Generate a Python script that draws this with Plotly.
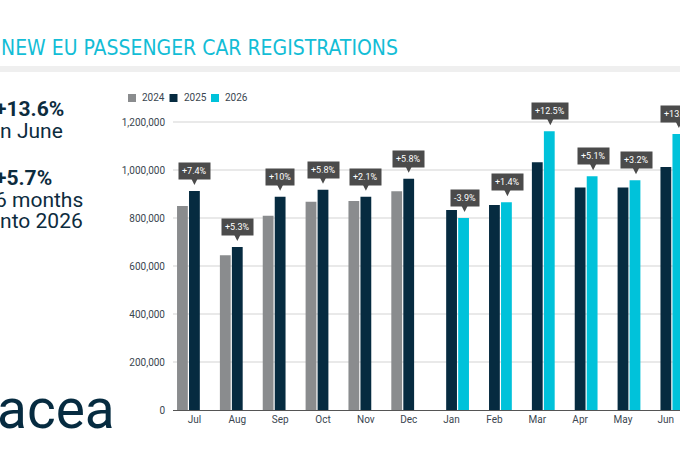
import plotly.graph_objects as go

months = ["Jul", "Aug", "Sep", "Oct", "Nov", "Dec", "Jan", "Feb", "Mar", "Apr", "May", "Jun"]
y2024 = [850000, 645000, 809000, 868000, 871000, 911000, None, None, None, None, None, None]
y2025 = [913000, 679000, 889000, 918000, 889000, 964000, 833000, 854000, 1032000, 927000, 927000, 1012000]
y2026 = [None, None, None, None, None, None, 800000, 866000, 1161000, 974000, 957000, 1150000]
changes = ["+7.4%", "+5.3%", "+10%", "+5.8%", "+2.1%", "+5.8%", "-3.9%", "+1.4%", "+12.5%", "+5.1%", "+3.2%", "+13.6%"]
series_names = ["2024", "2025", "2026"]
ytick_vals = [0, 200000, 400000, 600000, 800000, 1000000, 1200000]

GRAY = "#8a8c8e"
NAVY = "#062b40"
CYAN = "#00c2da"
TXT = "#0d2c3e"
COLORS = [GRAY, NAVY, CYAN]

fig = go.Figure()
for name, vals, col in zip(series_names, [y2024, y2025, y2026], COLORS):
    fig.add_bar(x=months, y=vals, name=name, marker=dict(color=col, line=dict(width=0)))

W, H = 680, 465
ML, MR, MT, MB = 173, 0, 110, 55
PW = W - ML - MR
PH = H - MT - MB

def px_x(px):
    return (px - ML) / PW

def px_y(py):
    return (H - MB - py) / PH

annotations = []
for i, m in enumerate(months):
    if y2026[i] is not None:
        val, shift = y2026[i], 13
    else:
        val, shift = y2025[i], 0
    annotations.append(dict(
        x=m, y=val, xref="x", yref="y", text=changes[i], showarrow=True,
        ax=0, ay=-20, standoff=6, arrowhead=2, arrowsize=1, arrowwidth=2.2,
        arrowcolor="#4b4b4b", xshift=shift,
        bgcolor="#4b4b4b", borderpad=3, font=dict(family="Roboto", size=9, color="white"),
    ))

annotations.append(dict(xref="paper", yref="paper", x=px_x(-1), y=px_y(48.5), xanchor="left", yanchor="middle",
                        text="NEW EU PASSENGER CAR REGISTRATIONS", showarrow=False,
                        font=dict(family="DejaVu Sans Condensed", size=21, color="#13bdd6")))

left_lines = [("<b>+13.6%</b>", 109), ("in June", 131), ("<b>+5.7%</b>", 177.5), ("6 months", 199.5), ("into 2026", 221)]
for txt, py in left_lines:
    annotations.append(dict(xref="paper", yref="paper", x=px_x(-7), y=px_y(py), xanchor="left", yanchor="middle",
                            text=txt, showarrow=False,
                            font=dict(family="Roboto", size=21, color=TXT)))

annotations.append(dict(xref="paper", yref="paper", x=px_x(-5), y=px_y(409), xanchor="left", yanchor="middle",
                        text="acea", showarrow=False,
                        font=dict(family="Roboto", size=55, color=NAVY)))

shapes = [dict(type="rect", xref="paper", yref="paper", x0=px_x(0), x1=px_x(W), y0=px_y(72), y1=px_y(66),
               fillcolor="#efefef", line=dict(width=0), layer="below")]

# compact legend (key squares + labels)
for k, (name, col) in enumerate(zip(series_names, COLORS)):
    sx = 128 + k * 41.5
    shapes.append(dict(type="rect", xref="paper", yref="paper", x0=px_x(sx), x1=px_x(sx + 8),
                       y0=px_y(102), y1=px_y(94), fillcolor=col, line=dict(width=0)))
    annotations.append(dict(xref="paper", yref="paper", x=px_x(sx + 12), y=px_y(98), xanchor="left",
                            yanchor="middle", text=name, showarrow=False,
                            font=dict(family="Roboto", size=10, color="#3a4650")))

fig.update_layout(
    width=W, height=H,
    margin=dict(l=ML, r=MR, t=MT, b=MB, pad=0),
    paper_bgcolor="white", plot_bgcolor="white",
    barmode="group", bargap=0.16, bargroupgap=0.1,
    font=dict(family="Roboto", color="#3a4650"),
    showlegend=False,
    xaxis=dict(type="category", range=[-0.5, 11.33], showline=True, linecolor="#555555", linewidth=1,
               ticks="", tickfont=dict(family="Roboto", size=10, color="#3a4650"), showgrid=False),
    yaxis=dict(range=[0, 1250000], tickvals=ytick_vals, tickformat=",d", showgrid=True,
               gridcolor="#e9e9e9", gridwidth=1.5, zeroline=False, ticks="",
               ticklabelstandoff=7,
               tickfont=dict(family="Roboto", size=10, color="#3a4650")),
    annotations=annotations,
    shapes=shapes,
)

fig.write_html("out.html")
